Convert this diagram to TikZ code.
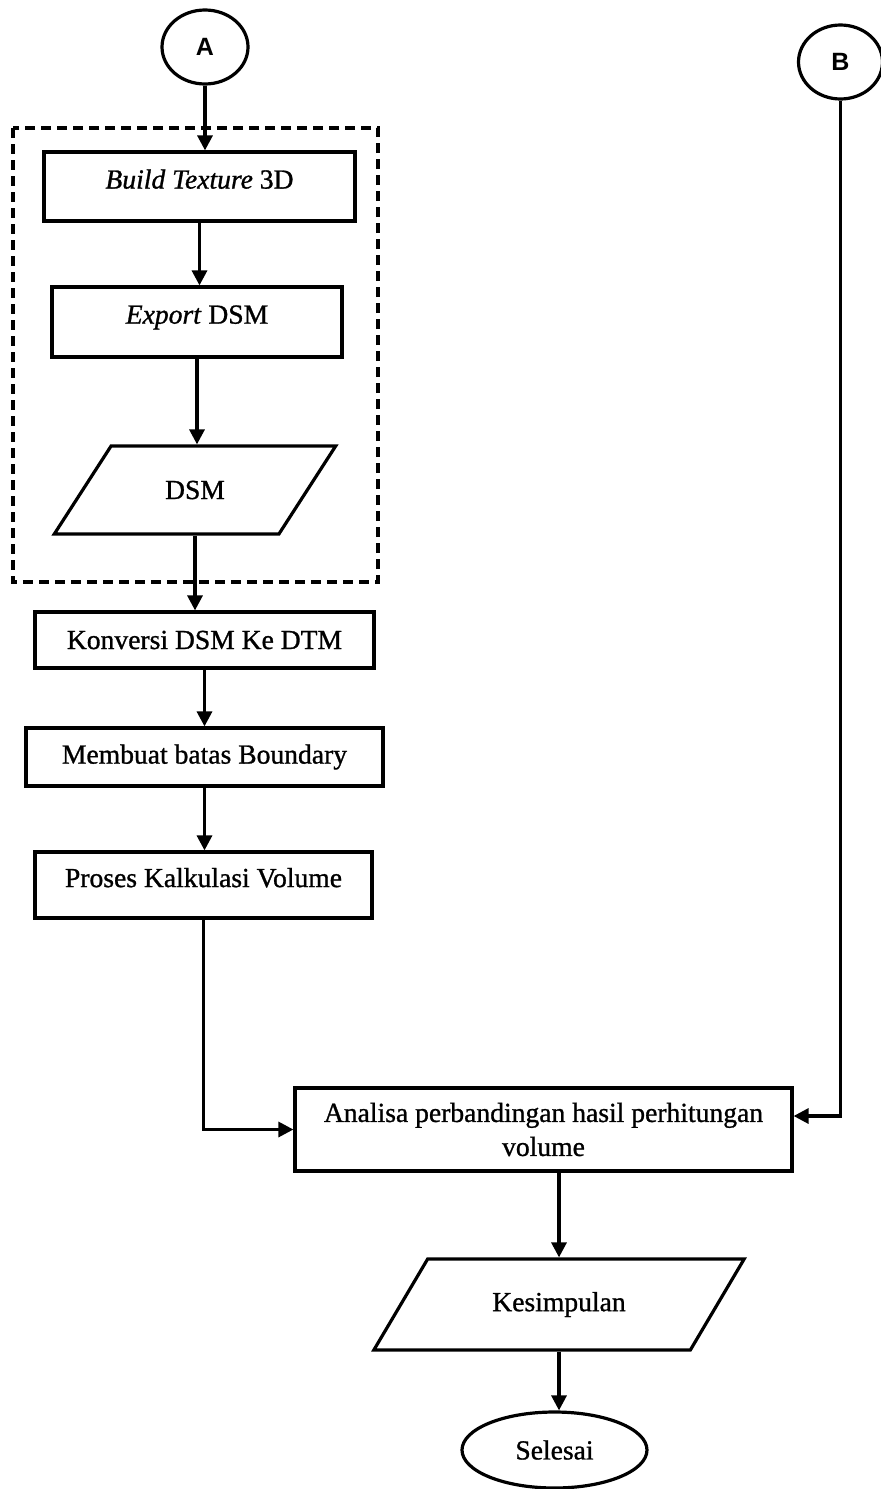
\documentclass[tikz,border=0pt]{standalone}
\usepackage{fontspec}
\setmainfont{Liberation Serif}[FakeBold=1]
\setsansfont{Liberation Sans}
\usetikzlibrary{shapes.geometric,arrows.meta}

\begin{document}
\begin{tikzpicture}[x=0.5pt, y=-0.5pt, line width=1.6pt,
    font=\fontsize{13.8}{17}\selectfont,
    box/.style={draw, rectangle, inner sep=0pt},
    tallbox/.style={box, text depth=7.5pt},
    io/.style={draw, trapezium, trapezium left angle=42.5, trapezium right angle=137.5,
      trapezium stretches=true, inner sep=0pt},
    term/.style={draw, ellipse, inner sep=0pt},
    conn/.style={draw, ellipse, inner sep=0pt, font=\sffamily\bfseries\fontsize{12.5}{14}\selectfont},
    arr/.style={-{Triangle[length=7.5pt,width=7.5pt]}}]

    % 1. Page frame
    \useasboundingbox (0,0) rectangle (881,1489);

    % 2. Connectors A and B
    \node[conn, minimum width=43pt, minimum height=37pt] (A) at (205,47) {A};
    \node[conn, minimum width=42pt, minimum height=37pt] (B) at (840.5,62) {B};

    % 3. Dashed group
    \draw[dash pattern=on 5pt off 3pt] (13,128) rectangle (378,582);
    \node[tallbox, minimum width=155.5pt, minimum height=34.5pt] (build) at (199.5,186.5) {\textit{Build Texture} 3D};
    \node[tallbox, minimum width=145pt, minimum height=35pt] (export) at (197,322) {\textit{Export} DSM};
    \node[io, minimum width=141pt, minimum height=44pt] (dsm) at (195,490) {DSM};

    % 4. Processing steps
    \node[box, minimum width=169.5pt, minimum height=28pt] (konv) at (204.5,640) {Konversi DSM Ke DTM};
    \node[box, minimum width=178.5pt, minimum height=29pt] (batas) at (204.5,757) {Membuat batas Boundary};
    \node[tallbox, minimum width=168.5pt, minimum height=33pt] (proses) at (203.5,885) {Proses Kalkulasi Volume};

    % 5. Analysis and end
    \node[box, align=center, minimum width=248.5pt, minimum height=41.5pt] (analisa) at (543.5,1129.5)
        {Analisa perbandingan hasil perhitungan\\volume};
    \node[io, minimum width=186pt, minimum height=45.5pt] (kesim) at (559,1304.5) {Kesimpulan};
    \node[term, minimum width=92.5pt, minimum height=38pt] (selesai) at (554.5,1450) {Selesai};

    % 6. Arrows
    \draw[arr] (A.south) -- (A.south |- build.north);
    \draw[arr] (build.south) -- (build.south |- export.north);
    \draw[arr] (export.south) -- (export.south |- dsm.north);
    \draw[arr] (dsm.south) -- (dsm.south |- konv.north);
    \draw[arr] (konv.south) -- (konv.south |- batas.north);
    \draw[arr] (batas.south) -- (batas.south |- proses.north);
    \draw[arr] (proses.south) |- (analisa.west);
    \draw[arr] (B.south) |- ([yshift=6.75pt]analisa.east);
    \draw[arr] (kesim.north |- analisa.south) -- (kesim.north);
    \draw[arr] (kesim.south) -- (kesim.south |- selesai.north);

\end{tikzpicture}
\end{document}
